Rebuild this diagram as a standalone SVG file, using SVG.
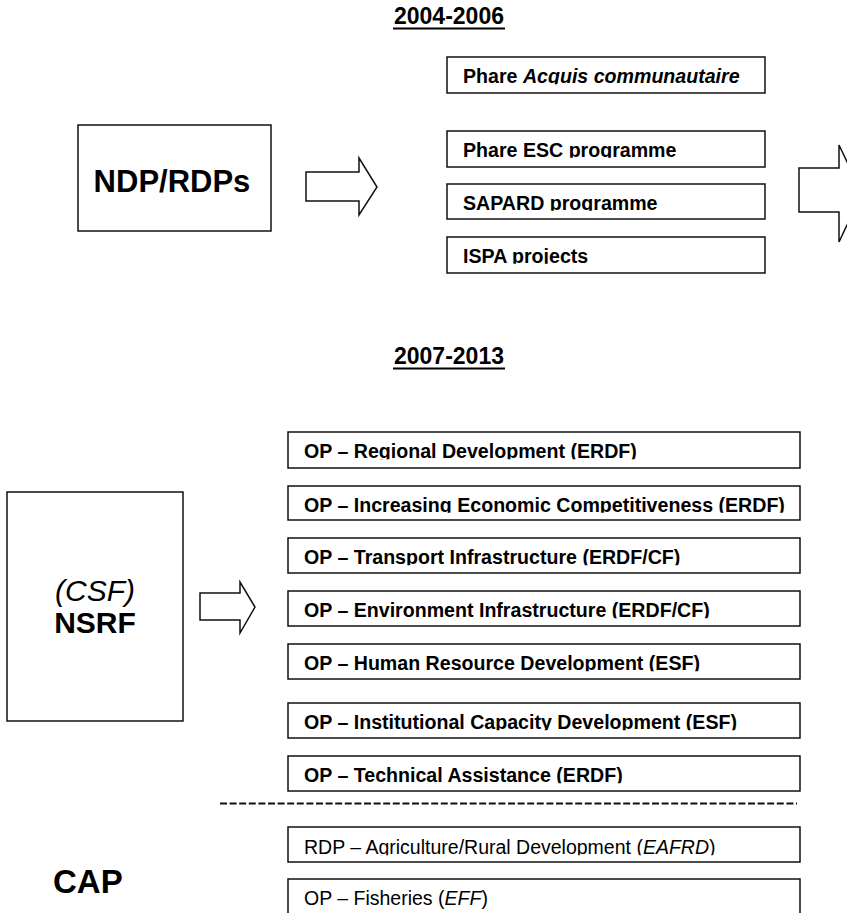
<svg xmlns="http://www.w3.org/2000/svg" width="847" height="913" viewBox="0 0 847 913">
<style>
.box{fill:#fff;stroke:#111;stroke-width:1.5}
.arrow{fill:#fff;stroke:#111;stroke-width:1.5;stroke-linejoin:miter}
.t{font-family:"Liberation Sans",Arial,sans-serif;font-weight:bold;font-size:19.6px;fill:#000}
.r{font-family:"Liberation Sans",Arial,sans-serif;font-size:19.5px;fill:#000}
.hdr{font-family:"Liberation Sans",Arial,sans-serif;font-weight:bold;font-size:23px;fill:#000;text-anchor:middle}
.big{font-family:"Liberation Sans",Arial,sans-serif;font-weight:bold;font-size:31px;fill:#000;text-anchor:middle}
</style>
<defs>
<clipPath id="cut" clipPathUnits="objectBoundingBox"><rect x="-0.1" y="-0.1" width="1.2" height="0.98"/></clipPath>
</defs>
<rect width="847" height="913" fill="#fff"/>

<g id="header-2004">
<text class="hdr" x="449" y="24">2004-2006</text>
<rect x="393" y="27.5" width="112" height="2" fill="#000"/>
</g>
<g id="header-2007">
<text class="hdr" x="449" y="364">2007-2013</text>
<rect x="393" y="367.5" width="112" height="2" fill="#000"/>
</g>

<g id="ndp">
<rect class="box" x="78" y="125" width="193" height="106"/>
<text class="big" x="172" y="192">NDP/RDPs</text>
</g>

<g id="phare-acquis">
<rect class="box" x="447" y="57" width="318" height="36"/>
<text class="t" x="463" y="83" clip-path="url(#cut)">Phare <tspan font-style="italic">Acquis communautaire</tspan></text>
</g>
<g id="phare-esc">
<rect class="box" x="447" y="131" width="318" height="36"/>
<text class="t" x="463" y="156.5" clip-path="url(#cut)">Phare ESC programme</text>
</g>
<g id="sapard">
<rect class="box" x="447" y="184" width="318" height="35"/>
<text class="t" x="463" y="209.5" clip-path="url(#cut)">SAPARD programme</text>
</g>
<g id="ispa">
<rect class="box" x="447" y="237" width="318" height="36"/>
<text class="t" x="463" y="262.5" clip-path="url(#cut)">ISPA projects</text>
</g>

<g id="nsrf">
<rect class="box" x="7" y="492" width="176" height="229"/>
<text x="95" y="601" font-family="Liberation Sans, Arial, sans-serif" font-style="italic" font-size="30" text-anchor="middle">(CSF)</text>
<text x="95" y="633" font-family="Liberation Sans, Arial, sans-serif" font-weight="bold" font-size="30" text-anchor="middle">NSRF</text>
</g>

<g id="op-regional">
<rect class="box" x="288" y="432" width="512" height="36"/>
<text class="t" x="304" y="458" clip-path="url(#cut)">OP – Regional Development (ERDF)</text>
</g>
<g id="op-competitiveness">
<rect class="box" x="288" y="486" width="512" height="34"/>
<text class="t" x="304" y="511.5" clip-path="url(#cut)">OP – Increasing Economic Competitiveness (ERDF)</text>
</g>
<g id="op-transport">
<rect class="box" x="288" y="538" width="512" height="35"/>
<text class="t" x="304" y="564" clip-path="url(#cut)">OP – Transport Infrastructure (ERDF/CF)</text>
</g>
<g id="op-environment">
<rect class="box" x="288" y="591" width="512" height="35"/>
<text class="t" x="304" y="617" clip-path="url(#cut)">OP – Environment Infrastructure (ERDF/CF)</text>
</g>
<g id="op-hrd">
<rect class="box" x="288" y="644" width="512" height="35"/>
<text class="t" x="304" y="670" clip-path="url(#cut)">OP – Human Resource Development (ESF)</text>
</g>
<g id="op-institutional">
<rect class="box" x="288" y="703" width="512" height="35"/>
<text class="t" x="304" y="729" clip-path="url(#cut)">OP – Institutional Capacity Development (ESF)</text>
</g>
<g id="op-ta">
<rect class="box" x="288" y="756" width="512" height="35"/>
<text class="t" x="304" y="782" clip-path="url(#cut)">OP – Technical Assistance (ERDF)</text>
</g>

<g id="separator">
<line x1="220" y1="803.5" x2="797" y2="803.5" stroke="#111" stroke-width="2" stroke-dasharray="7 2.6"/>
</g>

<g id="cap">
<text x="53" y="893" font-family="Liberation Sans, Arial, sans-serif" font-weight="bold" font-size="33">CAP</text>
</g>
<g id="rdp-agri">
<rect class="box" x="288" y="827" width="512" height="35"/>
<text class="r" x="304" y="854" clip-path="url(#cut)">RDP – Agriculture/Rural Development (<tspan font-style="italic">EAFRD</tspan>)</text>
</g>
<g id="op-fisheries">
<rect class="box" x="288" y="879" width="512" height="40"/>
<text class="r" x="304" y="905">OP – Fisheries (<tspan font-style="italic">EFF</tspan>)</text>
</g>

<g id="connectors">
<polygon class="arrow" points="306,172 359,172 359,158 377,187 359,215 359,201 306,201"/>
<polygon class="arrow" points="799,168 839,168 839,145 862,193 839,242 839,212 799,212"/>
<polygon class="arrow" points="200,593 240,593 240,582 255,607 240,633 240,620 200,620"/>
</g>
</svg>
